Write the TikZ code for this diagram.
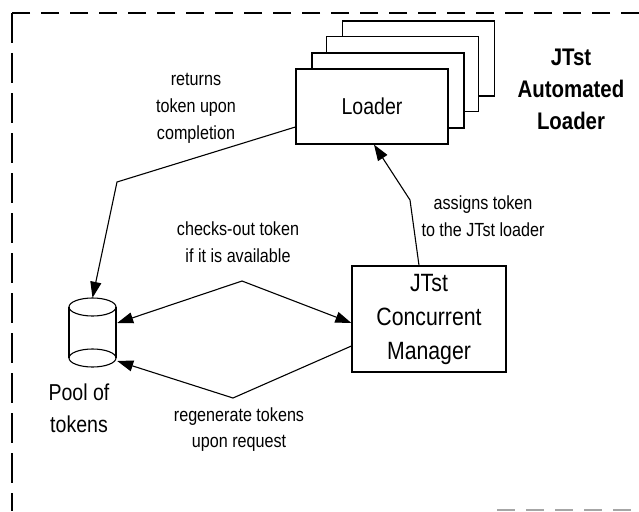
\documentclass[tikz,border=0pt]{standalone}
\usepackage{fontspec}
\setmainfont{Liberation Sans}[FakeStretch=0.85]
\usetikzlibrary{arrows.meta,calc}
\tikzset{
  lbl/.style={font=\fontsize{19}{27}\selectfont, align=center, inner sep=0pt},
  loaderbox/.style={draw, line width=1.2pt, fill=white, minimum width=152pt, minimum height=75pt, inner sep=0pt, font=\fontsize{23}{27}\selectfont},
  mgrbox/.style={draw, line width=1.2pt, fill=white, minimum width=154pt, minimum height=106pt, inner sep=0pt, align=center, font=\fontsize{25}{34}\selectfont},
  conn/.style={line width=1.1pt, -{Triangle[length=16pt,width=11pt]}},
  cyl/.style={line width=1.1pt},
  topframe/.style={line width=1.2pt, dash pattern=on 18pt off 11pt},
  leftframe/.style={line width=1.2pt, dash pattern=on 30pt off 10pt},
}
\begin{document}
\begin{tikzpicture}[x=1pt, y=-1pt]
\useasboundingbox (0,0) rectangle (639,511);
\fill[white] (0,0) rectangle (639,511);

% frame
\draw[topframe] (639,13) -- (12,13);
\draw[leftframe] (12,13) -- (12,511);
\draw[topframe, gray!70] (497,510) -- (639,510);

% loader stack
\node[loaderbox] (B4) at (418.5,58.5) {};
\node[loaderbox] (B3) at (402.5,74) {};
\node[loaderbox] (B2) at (388,90.5) {};
\node[loaderbox] (B1) at (372,106.5) {Loader};

\node[font=\bfseries\fontsize{24}{32}\selectfont, align=center, inner sep=0pt] (title) at (571,89) {JTst\\Automated\\Loader};

% manager
\node[mgrbox] (mgr) at (429,319) {JTst\\Concurrent\\Manager};

% pool of tokens (cylinder)
\node[minimum width=47pt, minimum height=68pt, inner sep=0pt] (pool) at (92.5,332) {};
\draw[cyl] (92.5,307) ellipse [x radius=23.5, y radius=9];
\draw[cyl] (69,307) -- (69,358);
\draw[cyl] (116,307) -- (116,358);
\draw[cyl] (92.5,358) ellipse [x radius=23.5, y radius=9];
\node[font=\fontsize{23}{32}\selectfont, align=center, inner sep=0pt] (lpool) at (79,408) {Pool of\\tokens};

% labels
\node[lbl] (lret) at (196,108) {returns\\token upon\\completion};
\node[lbl] (lchk) at (238,242) {checks-out token\\if it is available};
\node[lbl] (lasg) at (483,216) {assigns token\\to the JTst loader};
\node[lbl, font=\fontsize{19}{26}\selectfont] (lreg) at (239,430) {regenerate tokens\\upon request};

% connectors
\coordinate (k1) at (117,182);
\draw[conn] ($(B1.west)+(0,20.5)$) -- (k1) -- (pool.north);
\coordinate (k2) at (242,281);
\draw[conn] (k2) -- ($(pool.east)+(1,-9)$);
\draw[conn] (k2) -- ($(mgr.west)+(0,4)$);
\coordinate (k3) at (233,398);
\draw[conn] ($(mgr.west)+(0,27)$) -- (k3) -- ($(pool.east)+(1,29)$);
\coordinate (k4) at (410,200);
\draw[conn] ($(mgr.north)+(-10,0)$) -- (k4) -- ($(B1.south)+(2,0)$);
\end{tikzpicture}
\end{document}
